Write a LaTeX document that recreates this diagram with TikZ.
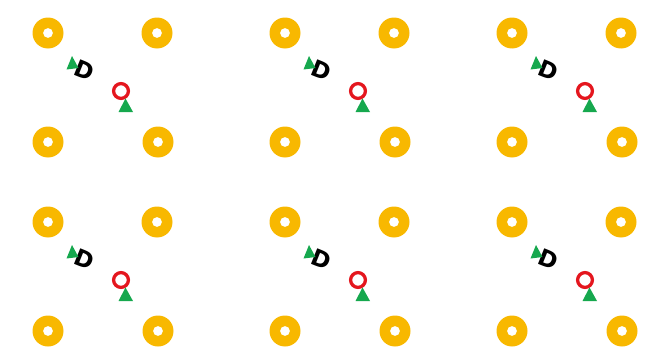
\documentclass[tikz,border=0pt]{standalone}
\usepackage{fontspec}
\setsansfont{DejaVu Sans}
\definecolor{ringyellow}{RGB}{248,184,0}
\definecolor{markred}{RGB}{228,22,30}
\definecolor{markgreen}{RGB}{22,168,78}
\begin{document}
\begin{tikzpicture}[x=1pt,y=-1pt,
  ring/.style={fill=ringyellow,even odd rule},
  redring/.style={draw=markred,line width=3.3pt},
  greentri/.style={fill=markgreen},
  dletter/.style={inner sep=0pt,font=\sffamily\bfseries\fontsize{23}{23}\selectfont,rotate=-22}]
\useasboundingbox (0,0) rectangle (665,348);

\foreach \cx/\cy/\n in {48/33/a, 285/33/b, 512/33/c, 48/222/d, 285/222/e, 512/222/f} {
  \begin{scope}[shift={(\cx,\cy)}]
    % yellow rings at the corners
    \foreach \rx/\ry in {0/0, 109/0, 0/109, 110/109}
      \fill[ring] (\rx,\ry) circle (15.5) circle (5);

    \node[dletter] (D\n) at (36,37) {D};
    \fill[greentri] (18.5,36.5) -- (30.5,35) -- (24,23) -- cycle;

    \draw[redring] (73,58) circle (7.4);
    \fill[greentri] (70.5,79) -- (85,79) -- (77.5,65.5) -- cycle;
  \end{scope}
}
\end{tikzpicture}
\end{document}
